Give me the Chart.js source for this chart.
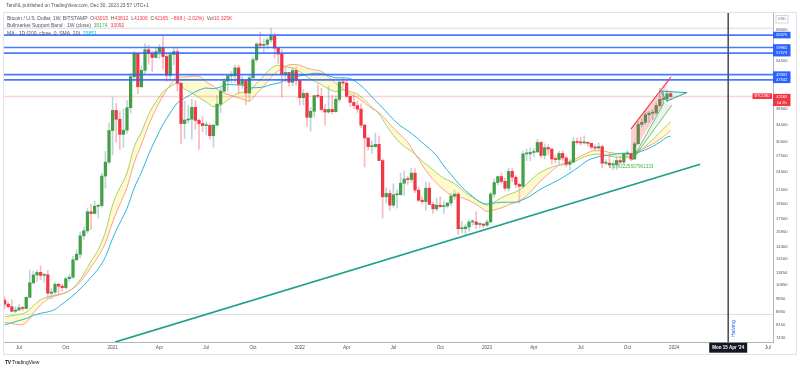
<!DOCTYPE html>
<html><head><meta charset="utf-8">
<script src="https://cdn.jsdelivr.net/npm/chart.js"></script>
<style>
html,body{margin:0;padding:0;background:#fff;overflow:hidden}
#wrap{position:relative;width:800px;height:370px;font-family:"Liberation Sans",Arial,sans-serif}
canvas{position:absolute;left:0;top:0}
.t{position:absolute;white-space:nowrap;color:#131722;line-height:1}
.r{color:#f23645}.g{color:#4caf50}.c{color:#00bcd4}
</style></head><body>
<div id="wrap">
<canvas id="chart" width="800" height="370"></canvas>
<div class="t" style="left:6px;top:3.6px;font-size:4.8px;color:#50535e">TaroNL published on TradingView.com, Dec 30, 2023 23:57 UTC+1</div>
<div class="t" style="left:7px;top:15.6px;font-size:5px;color:#50535e">Bitcoin / U.S. Dollar, 1W, BITSTAMP&nbsp; O<span class="r">43015</span>&nbsp; H<span class="r">43812</span>&nbsp; L<span class="r">41306</span>&nbsp; C<span class="r">42165</span>&nbsp; <span class="r">−868 (−2.02%)</span>&nbsp; Vol<span class="r">10.325K</span></div>
<div class="t" style="left:7px;top:23.2px;font-size:5px;color:#50535e">Bullmarket Support Band · 1W (close)&nbsp; <span class="g">35174</span>&nbsp; <span class="r">33092</span></div>
<div class="t" style="left:7px;top:30.8px;font-size:5px;color:#50535e">MA · 1D (200, close, 0, SMA, 20)&nbsp; <span class="c">33851</span></div>
<div class="t" style="left:5px;top:359.6px;font-size:5px;color:#131722"><b style="font-weight:900;letter-spacing:-0.4px">TV</b> TradingView</div>
</div>
<script>
// ---------- DATA ----------
const firstWeek = 1; // week index (0 = week of 1 Jun 2020)
const opens = [9750,9470,9300,9000,9080,9230,9180,9950,11050,11680,
11900,11650,11700,10250,10330,10930,10780,10670,11380,11500,
13030,13560,15480,16050,18400,18180,19150,19250,23800,26300,
33000,38150,35800,32100,33100,38900,48600,57400,45200,50900,
59000,57400,55800,58200,59800,56200,49100,57000,58200,46400,
34700,35600,35800,39000,35500,34700,34200,34250,31800,34300,
39900,43800,47100,48900,48900,51800,46000,47300,43200,48200,
54900,61500,60900,61300,63300,65000,59700,57200,49400,50100,
46700,50800,47300,41800,43100,36300,37900,42400,42200,38400,
37700,38400,37800,41300,46800,46400,42200,40400,39500,38500,
34300,31300,29400,29400,29900,26600,20500,21000,19300,20800,
20800,22600,23300,23200,24300,21500,20000,19800,21800,19400,
18800,19300,19100,19200,19600,20600,20900,16300,16300,16500,
17100,17100,16800,16850,16700,17100,20900,22700,23700,22900,
21800,24600,23600,22400,22100,27900,27900,28200,28300,30300,
27600,29200,28900,26900,26800,28000,27100,25900,26300,30500,
30300,30200,30300,30100,29300,29100,29400,26100,26100,25800,
25800,26600,26300,27900,27900,26900,30000,34500,35000,37000,
37400,37500,39500,41300,41400,43015];
const highs = [9990,9620,9780,9300,9450,9320,10000,12100,12000,12100,
12480,11800,12090,10600,11100,10990,10950,11500,11720,13350,
14000,15950,16480,18800,19400,19900,19400,24300,28400,34800,
42000,40100,37900,38600,41000,49700,58300,57500,52600,61700,
61000,58500,60000,61300,64850,57500,58000,59500,59600,46600,
40800,39500,41300,41000,36000,36600,35100,34600,34500,42500,
44800,48000,49400,50500,52900,52900,48800,47400,49200,56100,
62000,67000,63700,64300,69000,66300,59800,59100,51900,50100,
52000,52100,47500,44300,43500,38900,42600,45800,44700,39800,
45400,42600,42400,46900,48200,47200,42400,42900,40800,40000,
34600,31300,30700,32400,31700,26900,21900,21500,22500,21600,
24300,24700,23700,25200,25100,21900,20500,22800,22700,19700,
20300,20500,19900,19700,21000,21500,21100,17200,16800,17400,
17400,18400,17000,16900,17400,21200,23300,23800,24300,23400,
25200,25200,23900,22600,28400,28900,29100,29000,31000,30500,
30000,29800,28900,27600,28400,28400,27400,26800,31400,31300,
31400,31800,30400,30100,29800,30200,29700,26800,28100,26400,
27400,27500,28100,28600,28000,30400,35200,35900,38000,37900,
38400,40300,44700,43500,44400,43812];
const lows = [9150,9200,8950,8900,9050,9020,9150,9900,10950,11150,
11300,11100,9870,9850,10200,10130,10400,10550,11200,11400,
12950,13200,15100,15800,16200,18100,17600,19000,21800,26000,
27700,30400,28800,29200,32300,37400,47000,43000,45000,49500,
53200,50500,55500,55400,51200,47000,47000,53000,43900,30000,
31200,34800,31000,33300,28800,32700,32100,31000,29300,34300,
37500,43500,43900,46500,46600,43000,44700,39700,40800,48000,
54200,59600,58000,59500,62300,55600,53300,42000,46800,45500,
45600,45700,39700,39700,34000,32900,36300,41700,38000,34300,
37400,37200,37600,40500,45200,42000,39200,38600,37600,33700,
25400,28700,28000,29300,26600,17600,19600,18600,19000,18900,
20800,20700,22400,22700,21100,19800,19500,18600,19400,18200,
18500,19000,18200,18900,19200,20100,15600,15800,15500,16000,
16700,16300,16400,16400,16600,17100,20400,22300,22600,21500,
21400,22800,21900,19600,21900,26600,26600,27300,28200,27100,
26900,27700,25900,26100,25900,26600,25400,24800,26200,29900,
29700,29900,29500,28900,28600,28800,25200,25800,25400,24900,
24900,26000,26000,27200,26600,26800,29900,33900,34500,34900,
35700,37100,39100,40200,40500,41306];
const closes = [9470,9300,9000,9080,9230,9180,9950,11050,11680,11900,
11650,11700,10250,10330,10930,10780,10670,11380,11500,13030,
13560,15480,16050,18400,18180,19150,19250,23800,26300,33000,
38150,35800,32100,33100,38900,48600,57400,45200,50900,59000,
57400,55800,58200,59800,56200,49100,57000,58200,46400,34700,
35600,35800,39000,35500,34700,34200,34250,31800,34300,39900,
43800,47100,48900,48900,51800,46000,47300,43200,48200,54900,
61500,60900,61300,63300,65000,59700,57200,49400,50100,46700,
50800,47300,41800,43100,36300,37900,42400,42200,38400,37700,
38400,37800,41300,46800,46400,42200,40400,39500,38500,34300,
31300,29400,29400,29900,26600,20500,21000,19300,20800,20800,
22600,23300,23200,24300,21500,20000,19800,21800,19400,18800,
19300,19100,19200,19600,20600,20900,16300,16300,16500,17100,
17100,16800,16850,16700,17100,20900,22700,23700,22900,21800,
24600,23600,22400,22100,27900,27900,28200,28300,30300,27600,
29200,28900,26900,26800,28000,27100,25900,26300,30500,30300,
30200,30300,30100,29300,29100,29400,26100,26100,25800,25800,
26600,26300,27900,27900,26900,30000,34500,35000,37000,37400,
37500,39500,41300,41400,43000,42165];

// moving averages read at these week indices
const maWeeks = [1,3,5,7,9,11,13,15,17,19,21,23,25,27,29,31,33,35,37,39,41,43,45,47,49,51,53,55,57,59,61,63,65,67,69,71,73,75,77,79,81,83,85,87,89,91,93,95,97,99,101,103,105,107,109,111,113,115,117,119,121,123,125,127,129,131,133,135,137,139,141,143,145,147,149,151,153,155,157,159,161,163,165,167,169,171,173,175,177,179,181,183,185,186];
const sma20w = [8300,8240,8170,8300,8880,9420,9820,10050,10200,10440,
10810,11470,12380,13350,14710,17090,19390,21930,26160,29820,
34310,38430,42400,45790,48510,48470,48820,48730,46850,45350,
43710,42810,42050,41410,40750,43050,45420,48330,50750,52420,
53110,52770,51700,51050,50510,48500,46340,44590,42870,41800,
40200,38690,37540,35600,33580,31940,30310,27940,25800,23960,
22590,21560,20750,20530,20170,19710,19060,18460,18650,18920,
19340,19720,20210,21160,22450,23580,24690,25740,26210,26720,
27420,28140,28560,28530,28200,27980,27900,27900,28470,29230,
29950,30970,32270,33090];
const ema21w = [8630,8720,8800,8940,9360,9780,9980,10100,10200,10420,
10920,11760,12900,13990,15920,19350,21870,24350,29360,32620,
37060,40530,43550,45230,46410,44460,43240,41830,40510,39220,
39700,41140,42750,43440,43850,46370,48930,51580,52760,52240,
51650,50400,48510,47080,45890,44530,43680,44190,43680,42860,
41100,39070,37180,34330,31860,30100,28910,27860,26480,25450,
24340,23440,22860,22110,21120,20420,19800,19300,19740,20350,
20860,21230,21910,22970,24080,24840,25360,25720,25850,26310,
26990,27550,27840,27810,27480,27260,27240,27270,28150,29520,
30900,32550,34230,35170];
const ma200d = [8160,8290,8420,8540,8730,8870,8960,9120,9490,9860,
10310,10840,11490,12210,13310,15200,16970,18860,21830,24420,
27800,31110,34490,37460,40250,41630,42990,44130,44790,44610,
45170,46030,45840,45740,44840,44930,45150,45940,46380,47430,
48240,48910,49300,49810,49700,48990,48220,48210,47900,46530,
44510,42030,39870,37800,35750,34110,32940,31710,30250,29000,
27540,25580,24060,22610,21440,20560,19740,19470,19590,19710,
19700,19710,20070,20610,21340,22000,22560,23180,23910,24710,
25670,26620,27150,27470,27660,27890,28040,28000,28210,28750,
29430,30360,31480,31700];

// axes
const xTickWeeks = [5,18,31,44,57,70,83,96,109,122,135,148,161,174,187,213];
const xTickLabels = ['Jul','Oct','2021','Apr','Jul','Oct','2022','Apr','Jul','Oct','2023','Apr','Jul','Oct','2024','Jul'];
const yTickValues = [68000,54500,38500,34500,30500,27500,24500,21500,19500,17500,15900,14300,13100,11850,10850,9850,8950,8150,7430];
const xRange = [0.83, 214.44];
const yRange = [7216, 76840];

// drawings
const levelValues = [65570, 59965, 57573, 49332, 47542];
const lastPrice = 42165;
const grayLevels = [8800, 68900];
const halvingWeek = 202;
const halvingLabel = "Mon 15 Apr '24";
const supportLineWeeks = [31.7, 194.2];
const supportLineValues = [7216, 25900];
const channelRedWeeks = [175.0, 186.11];
const channelRedValues = [33400, 48600];
const pinkWeeks = [175.0, 186.11, 184.17, 184.17, 175.0];
const pinkValues = [33400, 48600, 43570, 40260, 27680];
const greenFanWeeks = [175.28, 184.17, 186.39];
const greenFanValues = [26700, 40260, 39680];
const triangleWeeks = [183.33, 190.47, 184.92, 183.33];
const triangleValues = [43800, 43350, 40750, 43800];
const fibText = '0.9782225607961333';
const fibWeek = 175.0, fibValue = 25400;

// ---------- BUILD ----------
const weeks = opens.map((_, k) => firstWeek + k);
const upC = '#43a047', dnC = '#f23645';
const isUp = closes.map((c, k) => c >= opens[k]);
const pts = (xs, ys) => xs.map((x, k) => ({x, y: ys[k]}));
const ln = (data, color, width, extra) => Object.assign({type:'line', data, borderColor:color, borderWidth:width, pointRadius:0, pointHoverRadius:0, fill:false, tension:0, order:5}, extra || {});

const datasets = [
  ln(pts(maWeeks, ma200d), '#2bb7da', 1, {order:25, cubicInterpolationMode:'monotone'}),
  ln(pts(maWeeks, sma20w), '#f59a83', 0.9, {order:25, cubicInterpolationMode:'monotone'}),
  ln(pts(maWeeks, ema21w), '#9ccc65', 0.9, {order:25, cubicInterpolationMode:'monotone', fill:{target:1}, backgroundColor:'rgba(255,235,80,0.28)'}),
  {type:'bar', data: weeks.map((w,k)=>({x:w, y:[lows[k], highs[k]]})), backgroundColor: isUp.map(u=>u?'rgba(110,160,185,0.45)':'rgba(242,54,69,0.35)'), barThickness:1, grouped:false, order:30, minBarLength:1},
  {type:'bar', data: weeks.map((w,k)=>({x:w, y:[opens[k], closes[k]]})), backgroundColor: isUp.map(u=>u?upC:dnC), barThickness:2.6, grouped:false, order:20, minBarLength:1},
];
levelValues.forEach(v => datasets.push(ln([{x:xRange[0],y:v},{x:xRange[1],y:v}], 'rgba(41,98,255,0.85)', 1.7, {order:4})));
datasets.push(ln([{x:xRange[0],y:lastPrice},{x:xRange[1],y:lastPrice}], 'rgba(242,54,69,0.22)', 1.6, {order:6}));
grayLevels.forEach(v => datasets.push(ln([{x:xRange[0],y:v},{x:xRange[1],y:v}], 'rgba(200,203,212,0.7)', 1, {order:40})));
datasets.push(ln(pts(supportLineWeeks, supportLineValues), '#1f9e89', 1.8, {order:3}));
datasets.push(ln([{x:halvingWeek,y:yRange[0]},{x:halvingWeek,y:yRange[1]}], '#50535e', 1.6, {order:3}));
datasets.push(ln(pts(pinkWeeks, pinkValues), 'rgba(0,0,0,0)', 0, {order:8, fill:'shape', backgroundColor:'rgba(242,54,69,0.24)'}));
datasets.push(ln(pts(greenFanWeeks, greenFanValues), 'rgba(0,0,0,0)', 0, {order:8, fill:'shape', backgroundColor:'rgba(76,175,80,0.13)'}));
datasets.push(ln(pts(channelRedWeeks, channelRedValues), '#f23645', 1.1, {order:3}));
datasets.push(ln(pts([greenFanWeeks[0], greenFanWeeks[1]], [greenFanValues[0], greenFanValues[1]]), '#4caf50', 0.8, {order:3}));
datasets.push(ln(pts([greenFanWeeks[0], greenFanWeeks[2]], [greenFanValues[0], greenFanValues[2]]), '#4caf50', 0.8, {order:3}));
datasets.push(ln(pts(triangleWeeks, triangleValues), '#26a69a', 1, {order:3, fill:'shape', backgroundColor:'rgba(38,166,154,0.1)'}));

const FONT = '"Liberation Sans", Arial, sans-serif';
function box(ctx, x, y, w, h, bg, border) {
  ctx.fillStyle = bg; ctx.fillRect(x, y, w, h);
  if (border) { ctx.strokeStyle = border; ctx.lineWidth = 1; ctx.strokeRect(x+0.5, y+0.5, w-1, h-1); }
}
function txt(ctx, s, x, y, size, color, align, bold) {
  ctx.font = (bold ? 'bold ' : '') + size + 'px ' + FONT;
  ctx.fillStyle = color; ctx.textAlign = align || 'center'; ctx.textBaseline = 'middle';
  ctx.fillText(s, x, y);
}

const overlay = {
  id: 'overlay',
  beforeDraw(chart) {
    const c = chart.ctx;
    c.save();
    c.fillStyle = '#fff'; c.fillRect(0, 0, chart.width, chart.height);
    c.strokeStyle = '#e0e3eb'; c.lineWidth = 1;
    c.strokeRect(3.5, 12.5, 793, 342);
    c.restore();
  },
  afterDraw(chart) {
    const c = chart.ctx, xs = chart.scales.x, ys = chart.scales.y;
    const area = chart.chartArea;
    c.save();
    // fib label
    txt(c, fibText, xs.getPixelForValue(fibWeek), ys.getPixelForValue(fibValue), 4.6, '#4caf50');
    // halving text (vertical)
    const hx = xs.getPixelForValue(halvingWeek);
    c.save(); c.translate(hx + 5, area.bottom - 5); c.rotate(-Math.PI/2);
    txt(c, 'Halving', 0, 0, 5, '#2962ff', 'left'); c.restore();
    // level tags
    levelValues.forEach(v => {
      const py = ys.getPixelForValue(v);
      box(c, area.right, py - 3.3, 17.5, 6.6, '#2962ff');
      txt(c, String(v), area.right + 8.75, py, 4, '#fff');
    });
    // price tags
    const py = ys.getPixelForValue(lastPrice);
    box(c, area.right, py - 2.6, 17.5, 12.2, '#f23645');
    txt(c, String(lastPrice), area.right + 8.75, py + 0.3, 4, '#fff');
    txt(c, '1d 2h', area.right + 8.75, py + 6.4, 4, '#fff');
    box(c, area.right - 20.5, py - 3.1, 19.5, 5.6, '#f23645');
    txt(c, 'BTCUSD', area.right - 10.75, py - 0.3, 3.8, '#fff');
    // USD box
    box(c, area.right + 2.5, 15, 13, 8.5, '#fff', '#d1d4dc');
    txt(c, 'USD', area.right + 9, 19.3, 4, '#787b86');
    // date tag
    box(c, hx - 19, area.bottom + 0.7, 38, 10, '#131722');
    txt(c, halvingLabel, hx, area.bottom + 5.7, 4.5, '#fff', 'center', true);
    c.restore();
  }
};

new Chart(document.getElementById('chart'), {
  type: 'bar',
  data: { datasets },
  plugins: [overlay],
  options: {
    responsive: false, animation: false, devicePixelRatio: 1,
    layout: { padding: { left: 4, top: 13, right: 0, bottom: 15 } },
    plugins: { legend: { display: false }, tooltip: { enabled: false } },
    events: [],
    scales: {
      x: {
        type: 'linear', min: xRange[0], max: xRange[1], offset: false, bounds: 'data',
        grid: { display: false, drawTicks: false, offset: false },
        border: { display: true, color: '#b2b5be', width: 1 },
        afterBuildTicks: s => { s.ticks = xTickWeeks.map(v => ({value: v})); },
        afterFit: s => { s.height = 13; },
        ticks: { autoSkip: false, maxRotation: 0, padding: 3.2, color: '#4c525e', font: { size: 4.6, family: FONT },
                 callback: (v, i) => xTickLabels[i] }
      },
      y: {
        type: 'logarithmic', position: 'right', min: yRange[0], max: yRange[1], bounds: 'data',
        grid: { display: false, drawTicks: false },
        border: { display: true, color: '#b2b5be', width: 1 },
        afterBuildTicks: s => { s.ticks = yTickValues.map(v => ({value: v})); },
        afterFit: s => { s.width = 27; },
        ticks: { autoSkip: false, crossAlign: 'near', padding: 3, color: '#4c525e', font: { size: 4.2, family: FONT },
                 callback: v => String(v) }
      }
    }
  }
});
</script>
</body></html>
